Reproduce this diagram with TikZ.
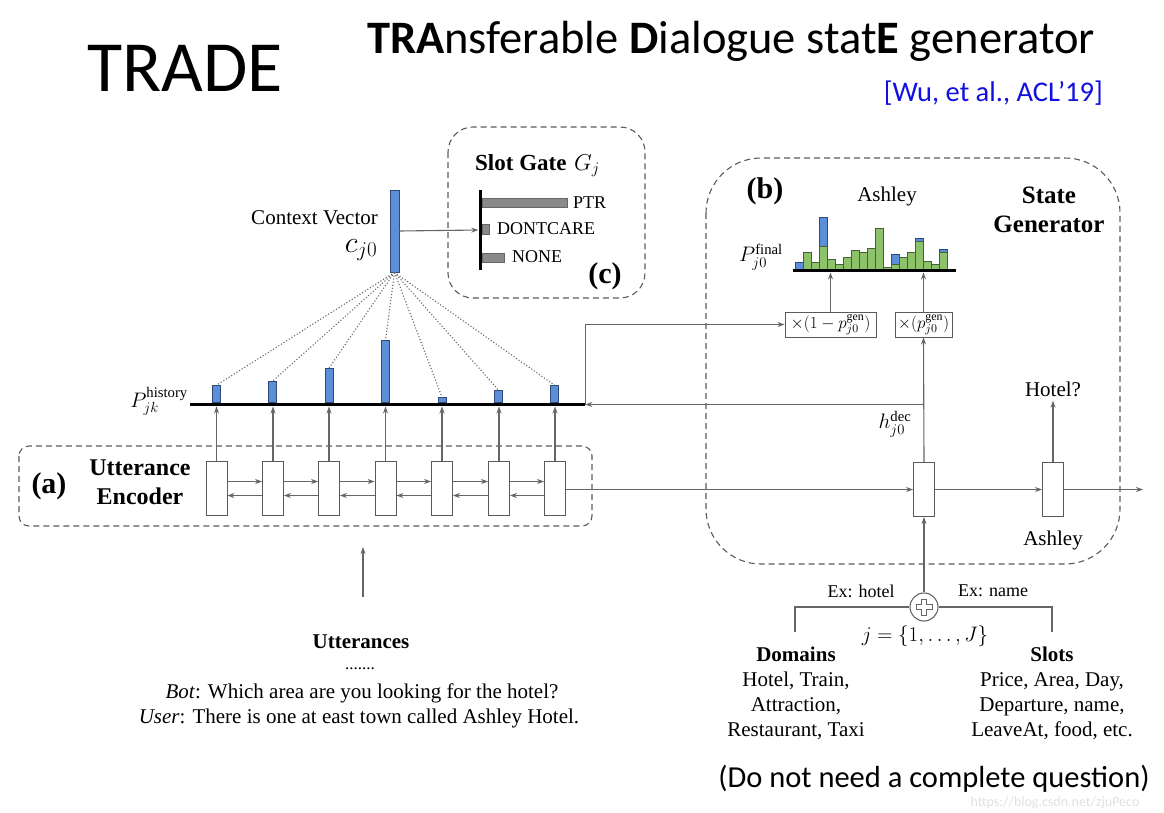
\RequirePackage{fix-cm}
\documentclass[tikz,border=0pt]{standalone}
\usepackage{fontspec}
\setmainfont{Liberation Serif}
\newfontfamily\calfont{Carlito}
\usetikzlibrary{arrows.meta,calc}
\definecolor{lnc}{HTML}{666666}
\definecolor{boxc}{HTML}{5A5A5A}
\definecolor{barblue}{HTML}{5B8FD8}
\definecolor{barblueline}{HTML}{2F4A78}
\definecolor{bargreen}{HTML}{8CC26A}
\definecolor{bargreenline}{HTML}{4A5E3E}
\definecolor{gatebar}{HTML}{8A8A8A}
\definecolor{citeblue}{HTML}{1010E0}
\newcommand\myfs[2]{\fontsize{#1}{#2}\selectfont}
\tikzset{
  conn/.style={draw=lnc, line width=1.1pt, -{Stealth[length=7pt,width=5pt]}},
  plainln/.style={draw=lnc, line width=1.1pt},
  dotln/.style={draw=lnc, line width=1.1pt, dotted},
  cellbox/.style={draw=black!65, fill=white, line width=0.8pt, minimum width=21pt, minimum height=54pt, inner sep=0pt},
  hbar/.style={draw=barblueline, fill=barblue, line width=0.6pt, minimum width=8pt, inner sep=0pt, anchor=south},
  gbar/.style={draw=black!60, fill=gatebar, line width=0.6pt, inner sep=0pt, anchor=west, minimum height=9pt},
  thickbase/.style={fill=black, inner sep=0pt, minimum height=3.5pt},
  groupbox/.style={draw=boxc, line width=1.1pt, dashed, dash pattern=on 6pt off 4pt},
  multbox/.style={draw=black!65, line width=0.8pt, minimum height=25pt, inner sep=1pt},
  txt/.style={inner sep=0pt, font=\myfs{21}{25}},
  smalltxt/.style={inner sep=0pt, font=\myfs{18}{22}},
}
\begin{document}
\begin{tikzpicture}[x=1pt,y=-1pt]
\useasboundingbox (0,0) rectangle (1164,812);

% ---------- titles ----------
\node[inner sep=0pt, font=\calfont\myfs{72}{80}] (trade) at (185,68) {TRADE};
\node[inner sep=0pt, anchor=base west, font=\calfont\myfs{46.5}{52}] (title) at (367,53)
  {\textbf{TRA}nsferable \textbf{D}ialogue stat\textbf{E} generator};
\node[inner sep=0pt, anchor=base east, text=citeblue, font=\calfont\myfs{28.5}{32}] (cite) at (1103,101) {[Wu, et al., ACL’19]};

% ---------- group boxes ----------
\draw[groupbox, rounded corners=25pt] (448,127) rectangle (645,298);
\draw[groupbox, rounded corners=55pt] (706,158) rectangle (1120,564);
\draw[groupbox, rounded corners=10pt] (19,446) rectangle (592,526);

% ---------- slot gate (c) ----------
\node[inner sep=0pt, anchor=base west, font=\bfseries\myfs{23}{27}] (sgtitle) at (475,170) {Slot Gate};
\node[inner sep=0pt, anchor=base west, font=\myfs{23}{27}] (gj) at (574,170) {$G_j$};
\node[fill=black, inner sep=0pt, minimum width=3pt, minimum height=80pt] (sg) at (480,230) {};
\node[gbar, minimum width=85pt] (ptrbar) at ($(sg.east)+(0,-27.5)$) {};
\node[gbar, minimum width=7pt, minimum height=10pt] (dcbar) at ($(sg.east)+(0,-1)$) {};
\node[gbar, minimum width=22pt] (nonebar) at ($(sg.east)+(0,27.5)$) {};
\node[smalltxt, anchor=west] (ptr) at (573,203) {PTR};
\node[smalltxt, anchor=west] (dc) at (497,229) {DONTCARE};
\node[smalltxt, anchor=west] (none) at (512,257) {NONE};
\node[inner sep=0pt, font=\bfseries\myfs{30}{34}] (clab) at (605,276) {(c)};

% ---------- context vector ----------
\node[draw=barblueline, fill=barblue, line width=0.8pt, inner sep=0pt, minimum width=9pt, minimum height=82pt] (cv) at (394.5,231) {};
\node[txt, anchor=base east] (cvlab) at (378,224) {Context Vector};
\node[inner sep=0pt, font=\myfs{30}{34}] (cj0) at (361,250) {$c_{j0}$};
\draw[conn] (cv.east) -- (sg.west);

% ---------- history distribution ----------
\node[thickbase, minimum width=395pt] (hbase) at (387.5,404.5) {};
\node[txt, anchor=east] (phist) at (188,401) {$P^{\mathrm{history}}_{jk}$};
\foreach \i/\x/\h in {1/216.5/17,2/272.5/21,3/329/34,4/385.5/62,5/442/5,6/498.5/12,7/554.5/17}{
  \node[hbar, minimum height=\h pt] (hb\i) at (\x,402.8) {};
  \draw[dotln] (cv.south) -- (hb\i.north);
}

% ---------- utterance encoder (a) ----------
\node[inner sep=0pt, font=\bfseries\myfs{30}{34}] (alab) at (49,486) {(a)};
\node[inner sep=0pt, align=center, font=\bfseries\myfs{24}{29}] (enclab) at (140,482) {Utterance\\Encoder};
\foreach \i/\x in {1/216.5,2/273,3/329,4/385.5,5/442,6/499,7/555}{
  \node[cellbox] (e\i) at (\x,488.5) {};
  \draw[conn] (e\i.north) -- (e\i.north |- hbase.south);
}
\foreach \a/\b in {1/2,2/3,3/4,4/5,5/6,6/7}{
  \draw[conn] ([yshift=7pt]e\a.east) -- ([yshift=7pt]e\b.west);
  \draw[conn] ([yshift=-7pt]e\b.west) -- ([yshift=-7pt]e\a.east);
}

% ---------- utterances ----------
\node[inner sep=0pt, font=\bfseries\myfs{21}{25}] (utt) at (361,642) {Utterances};
\coordinate (uttarrow) at (363,597);
\draw[conn] (uttarrow) -- (363,547);
\node[txt, anchor=base] (dots) at (360,669) {\myfs{17}{20}.......};
\node[txt, anchor=base] (botline) at (362,698) {\textit{Bot}: Which area are you looking for the hotel?};
\node[txt, anchor=base] (userline) at (359,723) {\textit{User}: There is one at east town called Ashley Hotel.};

% ---------- state generator (b) ----------
\node[inner sep=0pt, font=\bfseries\myfs{30}{34}] (blab) at (765,191) {(b)};
\node[txt] (ashtop) at (887,196) {Ashley};
\node[inner sep=0pt, align=center, font=\bfseries\myfs{25}{29}] (sglab) at (1049,210) {State\\Generator};
\node[txt] (pfinal) at (761,257) {$P^{\mathrm{final}}_{j0}$};

% histogram
\foreach \k/\g/\b in {1/270/262,2/252/0,3/262/0,4/246/217,5/259/0,6/264/0,7/257/0,8/250/0,9/252/0,10/248/0,
  11/228/0,12/267/0,13/264/254,14/257/0,15/252/0,16/241/238,17/261/0,18/264/0,19/252/249}{
  \pgfmathsetmacro{\xl}{795+8*(\k-1)}
  \pgfmathsetmacro{\xr}{\xl+8}
  \ifnum\b>0
    \draw[draw=barblueline, fill=barblue, line width=0.6pt] (\xl,\g) rectangle (\xr,\b);
  \fi
  \ifnum\g<270
    \draw[draw=bargreenline, fill=bargreen, line width=0.6pt] (\xl,270) rectangle (\xr,\g);
  \fi
}
\node[thickbase, minimum width=163pt] (fbase) at (874.5,270.5) {};

\node[multbox, minimum width=91pt, font=\myfs{17}{20}] (m1) at (830.5,324.5) {$\times(1-p^{\mathrm{gen}}_{j0})$};
\node[multbox, minimum width=57pt, font=\myfs{17}{20}] (m2) at (923.5,324.5) {$\times(p^{\mathrm{gen}}_{j0})$};
\draw[conn] (m1.north) -- (m1.north |- fbase.south);
\draw[conn] (m2.north) -- (m2.north |- fbase.south);

% decoder cells
\node[cellbox] (d1) at (924,489.5) {};
\node[cellbox] (d2) at (1053,489.5) {};
\coordinate (outp) at (1143,489.5);
\draw[conn] (e7.east |- d1.west) -- (d1.west);
\draw[conn] (d1.east) -- (d2.west);
\draw[conn] (d2.east) -- (outp);
\node[txt] (hotelq) at (1053,389) {Hotel?};
\draw[conn] (d2.north) -- ([yshift=-4pt]hotelq.south);
\node[txt] (ashbot) at (1053,540) {Ashley};
\node[txt] (hdec) at (895,424) {$h^{\mathrm{dec}}_{j0}$};

% feed lines
\draw[conn] (d1.north) -- (m2.south);
\draw[conn] (d1.north |- hbase.east) -- (hbase.east);
\draw[conn] (hbase.east) |- (m1.west);

% ---------- domain / slot combination ----------
\node[draw=lnc, line width=1.1pt, circle, minimum size=28pt, inner sep=0pt] (plus) at (924,607) {};
\draw[draw=lnc, line width=1pt, shift={(plus.center)}]
  (-2.5,-8) -- (2.5,-8) -- (2.5,-2.5) -- (8,-2.5) -- (8,2.5) -- (2.5,2.5) -- (2.5,8) -- (-2.5,8)
  -- (-2.5,2.5) -- (-8,2.5) -- (-8,-2.5) -- (-2.5,-2.5) -- cycle;
\draw[conn] (plus.north) -- (d1.south);
\coordinate (dl) at (795,632);
\coordinate (dr) at (1052,632);
\draw[plainln] (plus.west) -| (dl);
\draw[plainln] (plus.east) -| (dr);
\node[smalltxt] (exh) at (861,591) {Ex: hotel};
\node[smalltxt] (exn) at (993,591) {Ex: name};
\node[txt] (jset) at (925,636) {$j=\{1,\ldots,J\}$};
\node[txt, align=center, anchor=north] (domains) at (796,647)
  {\textbf{Domains}\\Hotel, Train,\\Attraction,\\Restaurant, Taxi};
\node[txt, align=center, anchor=north] (slots) at (1052,647)
  {\textbf{Slots}\\Price, Area, Day,\\Departure, name,\\LeaveAt, food, etc.};

\node[inner sep=0pt, font=\calfont\myfs{30.5}{34}] (note) at (934,779) {(Do not need a complete question)};
\node[inner sep=0pt, text=black!12, font=\calfont\myfs{14}{16}] (wm) at (1055,803) {https://blog.csdn.net/zjuPeco};
\end{tikzpicture}
\end{document}
